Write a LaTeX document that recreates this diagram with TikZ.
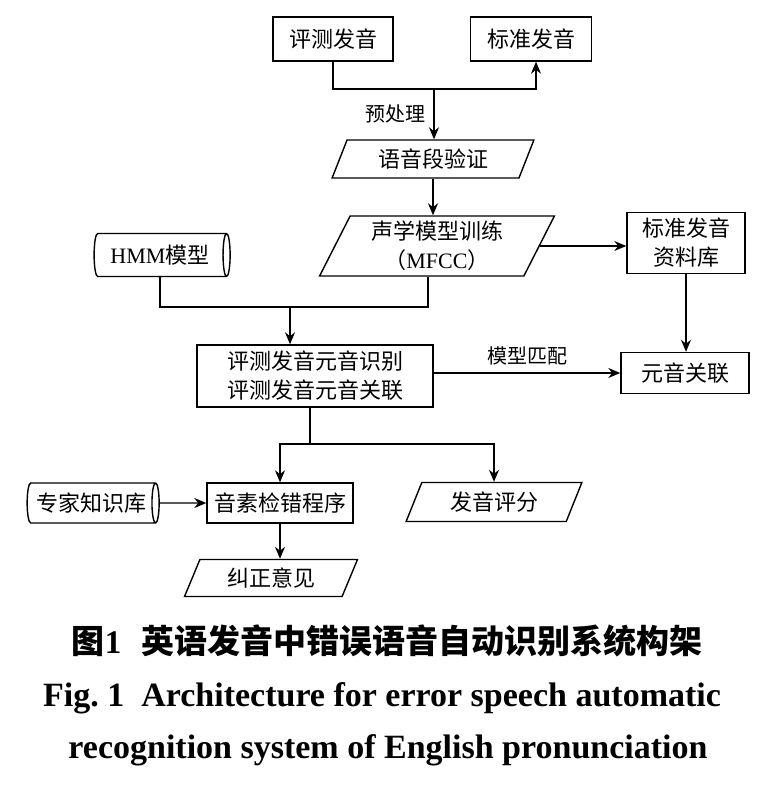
\documentclass[tikz,border=0pt]{standalone}
\usepackage{fontspec}
\setmainfont{Liberation Serif}
\newfontfamily\cjk{Noto Sans CJK SC}
\usepackage{tikz}
\usetikzlibrary{positioning, arrows.meta, shapes.geometric, calc}

\begin{document}
\begin{tikzpicture}[x=1pt, y=-1pt, line width=1.4pt, >={Stealth[length=12pt,width=10pt]},
    box/.style={draw, rectangle, align=center, inner sep=0pt, font=\cjk\fontsize{22}{29}\selectfont},
    para/.style={draw, trapezium, trapezium left angle=65, trapezium right angle=115, trapezium stretches=true, inner sep=0pt, align=center, font=\cjk\fontsize{22}{29}\selectfont},
    drum/.style={draw, cylinder, shape aspect=0.35, inner sep=0pt, font=\fontsize{22}{29}\selectfont},
    lbl/.style={font=\cjk\fontsize{20}{24}\selectfont}]
  \useasboundingbox (0,0) rectangle (769,787);
           \node[box, minimum width=120pt, minimum height=44pt] (pc) at (333,39) {评测发音};
           \node[box, minimum width=121pt, minimum height=44pt] (bz) at (531,39) {标准发音};
           \node[para, minimum width=202pt, minimum height=38pt] (yd) at (433,159) {语音段验证};
           \node[para, minimum width=235pt, minimum height=60pt] (sx) at (437,246) {声学模型训练\\（{\rmfamily MFCC}）};
           \node[box, minimum width=118pt, minimum height=61pt] (zl) at (686,243) {标准发音\\资料库};
           \node[drum, minimum width=43pt, minimum height=136pt] (hmm) at (160,255) {HMM{\cjk 模型}};
           \node[box, minimum width=236pt, minimum height=62pt] (sb) at (315,376) {评测发音元音识别\\评测发音元音关联};
           \node[box, minimum width=128pt, minimum height=41pt] (gl) at (685,373) {元音关联};
           \node[drum, minimum width=40pt, minimum height=132pt, font=\cjk\fontsize{22}{29}\selectfont] (zj) at (91,503) {专家知识库};
           \node[box, minimum width=146pt, minimum height=40pt] (jc) at (280,503) {音素检错程序};
           \node[para, minimum width=176pt, minimum height=39pt] (pf) at (494,502) {发音评分};
           \node[para, minimum width=173pt, minimum height=37pt] (jz) at (271,578) {纠正意见};
           \coordinate (j1) at (434,89);
           \coordinate (j2) at (290,307);
           \coordinate (j3) at (310,444);
            \draw[->] (pc.south) |- (j1) -| ($(bz.south)+(5,0)$);
            \draw[->] (j1) -- node[lbl, left=4pt] {预处理} (j1 |- yd.north);
            \draw[->] (yd.south) -- (yd.south |- sx.north);
            \draw[->] (sx.east) -- (sx.east -| zl.west);
            \draw (hmm.south) |- (j2) -| ($(sx.south)+(-9,0)$);
            \draw[->] (j2) -- (j2 |- sb.north);
            \draw[->] (zl.south) -- (zl.south |- gl.north);
            \draw[->] (sb.east |- gl.west) -- node[lbl, above=4pt] {模型匹配} (gl.west);
            \draw (j3 |- sb.south) -- (j3);
            \draw[->] (j3) -| (jc.north);
            \draw[->] (j3) -| (pf.north);
            \draw[->] (zj.east) -- (jc.west);
            \draw[->] (jc.south) -- (jc.south |- jz.north);
           \node (cap1) at (387,641) {\cjk\bfseries\fontsize{33}{33}\selectfont 图{\rmfamily 1}\hspace{0.6em}英语发音中错误语音自动识别系统构架};
           \node (cap2) at (382,698) {\bfseries\fontsize{34}{34}\selectfont Fig.~1\hspace{0.5em}Architecture for error speech automatic};
           \node (cap3) at (388,750) {\bfseries\fontsize{34}{34}\selectfont recognition system of English pronunciation};
        \end{tikzpicture}
\end{document}
